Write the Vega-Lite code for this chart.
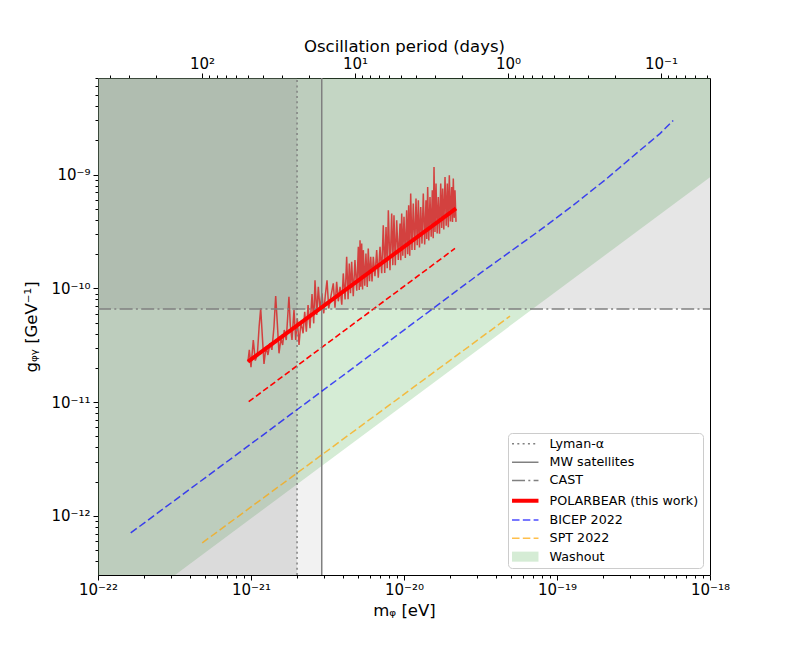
{
  "$schema": "https://vega.github.io/schema/vega-lite/v6.json",
  "width": 612,
  "height": 497,
  "autosize": "none",
  "padding": {"left": 98, "top": 78, "right": 79, "bottom": 83},
  "background": "white",
  "config": {
    "font": "DejaVu Sans",
    "view": {"stroke": "black", "strokeWidth": 1},
    "axis": {
      "domain": false, "grid": false,
      "labelColor": "black", "titleColor": "black", "tickColor": "black", "tickWidth": 1,
      "labelFont": "DejaVu Sans", "titleFont": "DejaVu Sans", "titleFontWeight": "normal",
      "labelFontSize": 15, "titleFontSize": 16.5,
      "labelFlush": false, "labelOverlap": false, "labelBound": false
    },
    "legend": {
      "orient": "bottom-right", "offset": 7, "padding": 4.5, "rowPadding": 4.3,
      "fillColor": "rgba(255,255,255,0.8)", "strokeColor": "#cccccc", "cornerRadius": 4,
      "labelFont": "DejaVu Sans", "labelFontSize": 12.7, "labelColor": "black", "labelLimit": 300,
      "symbolType": "M-10,0H10", "symbolSize": 7, "symbolOffset": 6.4, "labelOffset": 18
    }
  },
  "datasets": {
    "washout": [
      {"m": 1e-22, "g": 9.5e-14, "gtop": 7.06e-9},
      {"m": 1e-18, "g": 9.5e-10, "gtop": 7.06e-9}
    ],
    "regions": [
      {"region": "Lyman-α", "m": 1e-22, "m2": 2.0e-21, "g": 3.03e-13, "g2": 7.06e-9},
      {"region": "MW satellites", "m": 1e-22, "m2": 2.9e-21, "g": 3.03e-13, "g2": 7.06e-9},
      {"region": "CAST", "m": 1e-22, "m2": 1e-18, "g": 6.6e-11, "g2": 7.06e-9}
    ],
    "noisy": [
      {"m": 9.55e-22, "g": 2.27e-11}, {"m": 9.75e-22, "g": 2.88e-11}, {"m": 1.0e-21, "g": 2.03e-11},
      {"m": 1.035e-21, "g": 3.52e-11}, {"m": 1.067e-21, "g": 2.32e-11}, {"m": 1.10e-21, "g": 2.60e-11},
      {"m": 1.13e-21, "g": 4.60e-11}, {"m": 1.157e-21, "g": 6.68e-11}, {"m": 1.19e-21, "g": 3.52e-11},
      {"m": 1.216e-21, "g": 2.17e-11}, {"m": 1.253e-21, "g": 3.08e-11}, {"m": 1.29e-21, "g": 2.60e-11},
      {"m": 1.33e-21, "g": 3.30e-11}, {"m": 1.37e-21, "g": 2.88e-11}, {"m": 1.413e-21, "g": 4.60e-11},
      {"m": 1.45e-21, "g": 8.56e-11}, {"m": 1.486e-21, "g": 4.93e-11}, {"m": 1.524e-21, "g": 2.69e-11},
      {"m": 1.57e-21, "g": 3.64e-11}, {"m": 1.61e-21, "g": 3.18e-11}, {"m": 1.65e-21, "g": 4.31e-11},
      {"m": 1.70e-21, "g": 3.52e-11}, {"m": 1.77e-21, "g": 8.44e-11}, {"m": 1.807e-21, "g": 4.76e-11},
      {"m": 1.853e-21, "g": 3.52e-11}, {"m": 1.91e-21, "g": 6.45e-11}, {"m": 1.96e-21, "g": 3.52e-11},
      {"m": 2.007e-21, "g": 5.46e-11}, {"m": 2.06e-21, "g": 3.18e-11}, {"m": 2.12e-21, "g": 5.09e-11},
      {"m": 2.19e-21, "g": 4.03e-11}, {"m": 2.244e-21, "g": 6.24e-11}, {"m": 2.30e-21, "g": 4.16e-11},
      {"m": 2.36e-21, "g": 7.14e-11}, {"m": 2.43e-21, "g": 4.46e-11}, {"m": 2.505e-21, "g": 8.91e-11},
      {"m": 2.57e-21, "g": 4.93e-11}, {"m": 2.62e-21, "g": 1.18e-10}, {"m": 2.69e-21, "g": 5.83e-11},
      {"m": 2.754e-21, "g": 1.033e-10}, {"m": 2.825e-21, "g": 6.45e-11}, {"m": 2.91e-21, "g": 9.04e-11},
      {"m": 2.99e-21, "g": 6.04e-11}, {"m": 3.06e-21, "g": 8.73e-11}, {"m": 3.14e-21, "g": 1.18e-10},
      {"m": 3.22e-21, "g": 6.68e-11},
      {"m": 3.45e-21, "g": 1.106e-10}, {"m": 3.54e-21, "g": 6.76e-11}, {"m": 3.63e-21, "g": 1.143e-10},
      {"m": 3.72e-21, "g": 7.70e-11}, {"m": 3.82e-21, "g": 1.033e-10}, {"m": 3.92e-21, "g": 7.18e-11},
      {"m": 4.01e-21, "g": 1.354e-10}, {"m": 4.12e-21, "g": 8.01e-11}, {"m": 4.22e-21, "g": 1.893e-10},
      {"m": 4.31e-21, "g": 8.04e-11}, {"m": 4.39e-21, "g": 1.657e-10}, {"m": 4.47e-21, "g": 9.05e-11},
      {"m": 4.55e-21, "g": 1.712e-10}, {"m": 4.66e-21, "g": 8.53e-11}, {"m": 4.78e-21, "g": 1.771e-10},
      {"m": 4.91e-21, "g": 9.54e-11}, {"m": 5.03e-21, "g": 2.317e-10}, {"m": 5.10e-21, "g": 9.70e-11},
      {"m": 5.16e-21, "g": 2.653e-10}, {"m": 5.22e-21, "g": 1.034e-10}, {"m": 5.29e-21, "g": 2.48e-10},
      {"m": 5.36e-21, "g": 9.79e-11}, {"m": 5.42e-21, "g": 2.168e-10}, {"m": 5.54e-21, "g": 1.053e-10},
      {"m": 5.64e-21, "g": 2.028e-10}, {"m": 5.75e-21, "g": 1.029e-10}, {"m": 5.84e-21, "g": 2.243e-10},
      {"m": 5.95e-21, "g": 1.154e-10}, {"m": 6.06e-21, "g": 1.893e-10}, {"m": 6.18e-21, "g": 1.150e-10},
      {"m": 6.30e-21, "g": 1.893e-10}, {"m": 6.46e-21, "g": 1.279e-10}, {"m": 6.63e-21, "g": 2.168e-10},
      {"m": 6.79e-21, "g": 1.239e-10}, {"m": 6.97e-21, "g": 2.317e-10}, {"m": 7.15e-21, "g": 1.357e-10},
      {"m": 7.32e-21, "g": 3.592e-10}, {"m": 7.48e-21, "g": 1.363e-10}, {"m": 7.63e-21, "g": 3.47e-10},
      {"m": 7.77e-21, "g": 1.503e-10}, {"m": 7.90e-21, "g": 4.86e-10}, {"m": 8.10e-21, "g": 1.445e-10},
      {"m": 8.31e-21, "g": 4.55e-10}, {"m": 8.45e-21, "g": 1.601e-10}, {"m": 8.60e-21, "g": 4.40e-10},
      {"m": 8.77e-21, "g": 1.596e-10}, {"m": 8.96e-21, "g": 3.97e-10}, {"m": 9.18e-21, "g": 1.774e-10},
      {"m": 9.42e-21, "g": 3.72e-10}, {"m": 9.53e-21, "g": 1.768e-10}, {"m": 9.66e-21, "g": 4.55e-10},
      {"m": 9.82e-21, "g": 1.936e-10}, {"m": 1.0e-20, "g": 4.25e-10}, {"m": 1.020e-20, "g": 1.853e-10},
      {"m": 1.041e-20, "g": 4.86e-10}, {"m": 1.057e-20, "g": 2.0e-10}, {"m": 1.073e-20, "g": 5.38e-10},
      {"m": 1.090e-20, "g": 1.940e-10}, {"m": 1.106e-20, "g": 6.81e-10}, {"m": 1.128e-20, "g": 2.177e-10},
      {"m": 1.150e-20, "g": 5.57e-10}, {"m": 1.175e-20, "g": 2.176e-10}, {"m": 1.198e-20, "g": 6.16e-10},
      {"m": 1.220e-20, "g": 2.40e-10}, {"m": 1.241e-20, "g": 5.95e-10}, {"m": 1.262e-20, "g": 2.29e-10},
      {"m": 1.286e-20, "g": 5.20e-10}, {"m": 1.311e-20, "g": 2.475e-10}, {"m": 1.337e-20, "g": 6.81e-10},
      {"m": 1.365e-20, "g": 2.426e-10}, {"m": 1.392e-20, "g": 5.95e-10}, {"m": 1.409e-20, "g": 2.713e-10},
      {"m": 1.428e-20, "g": 7.78e-10}, {"m": 1.452e-20, "g": 2.631e-10}, {"m": 1.479e-20, "g": 6.36e-10},
      {"m": 1.506e-20, "g": 2.84e-10}, {"m": 1.531e-20, "g": 7.28e-10}, {"m": 1.552e-20, "g": 2.754e-10},
      {"m": 1.571e-20, "g": 1.166e-9}, {"m": 1.594e-20, "g": 3.128e-10}, {"m": 1.619e-20, "g": 8.34e-10},
      {"m": 1.648e-20, "g": 3.043e-10}, {"m": 1.676e-20, "g": 6.36e-10}, {"m": 1.706e-20, "g": 3.025e-10},
      {"m": 1.738e-20, "g": 8.34e-10}, {"m": 1.764e-20, "g": 3.39e-10}, {"m": 1.790e-20, "g": 7.54e-10},
      {"m": 1.820e-20, "g": 3.292e-10}, {"m": 1.854e-20, "g": 9.53e-10}, {"m": 1.887e-20, "g": 3.552e-10},
      {"m": 1.919e-20, "g": 8.34e-10}, {"m": 1.948e-20, "g": 3.45e-10}, {"m": 1.978e-20, "g": 9.86e-10},
      {"m": 2.013e-20, "g": 3.864e-10}, {"m": 2.05e-20, "g": 7.78e-10}, {"m": 2.075e-20, "g": 3.824e-10},
      {"m": 2.10e-20, "g": 9.22e-10}, {"m": 2.129e-20, "g": 4.167e-10}, {"m": 2.154e-20, "g": 7.28e-10},
      {"m": 2.188e-20, "g": 3.84e-10}
    ],
    "forecast": [
      {"m": 9.66e-22, "g": 1.01e-11},
      {"m": 2.154e-20, "g": 2.244e-10}
    ],
    "lines": [
      {"series": "Lyman-α", "m": 2.0e-21, "g": 3.03e-13},
      {"series": "Lyman-α", "m": 2.0e-21, "g": 7.06e-9},
      {"series": "MW satellites", "m": 2.9e-21, "g": 3.03e-13},
      {"series": "MW satellites", "m": 2.9e-21, "g": 7.06e-9},
      {"series": "CAST", "m": 1e-22, "g": 6.6e-11},
      {"series": "CAST", "m": 1e-18, "g": 6.6e-11},
      {"series": "POLARBEAR (this work)", "m": 9.55e-22, "g": 2.27e-11},
      {"series": "POLARBEAR (this work)", "m": 2.188e-20, "g": 5.04e-10},
      {"series": "BICEP 2022", "m": 1.636e-22, "g": 7.1e-13},
      {"series": "BICEP 2022", "m": 1e-21, "g": 4.3e-12},
      {"series": "BICEP 2022", "m": 1e-20, "g": 4.3e-11},
      {"series": "BICEP 2022", "m": 3.14e-20, "g": 1.355e-10},
      {"series": "BICEP 2022", "m": 7.74e-20, "g": 3.245e-10},
      {"series": "BICEP 2022", "m": 1.278e-19, "g": 5.38e-10},
      {"series": "BICEP 2022", "m": 2.113e-19, "g": 9.22e-10},
      {"series": "BICEP 2022", "m": 3.487e-19, "g": 1.634e-9},
      {"series": "BICEP 2022", "m": 4.71e-19, "g": 2.29e-9},
      {"series": "BICEP 2022", "m": 5.75e-19, "g": 2.99e-9},
      {"series": "SPT 2022", "m": 4.8e-22, "g": 5.8e-13},
      {"series": "SPT 2022", "m": 4.93e-20, "g": 5.7e-11}
    ],
    "period": [{"p": 478.66}, {"p": 0.047866}]
  },
  "resolve": {"scale": {"x": "independent"}},
  "layer": [
    {
      "resolve": {"axis": {"x": "independent", "y": "independent"}},
      "layer": [
        {
          "data": {"name": "washout"},
          "mark": {"type": "area", "color": "#2ca02c", "opacity": 0.2, "clip": true},
          "encoding": {
            "x": {
              "field": "m", "type": "quantitative",
              "scale": {"type": "log", "domain": [1e-22, 1e-18], "nice": false},
              "axis": {
                "orient": "bottom", "values": [1e-22, 1e-21, 1e-20, 1e-19, 1e-18],
                "labelExpr": "'10' + replace(replace(replace(replace(replace(replace(replace(replace(replace(replace(replace(toString(round(log(datum.value) / LN10)), regexp('-', 'g'), '⁻'), regexp('0', 'g'), '⁰'), regexp('1', 'g'), '¹'), regexp('2', 'g'), '²'), regexp('3', 'g'), '³'), regexp('4', 'g'), '⁴'), regexp('5', 'g'), '⁵'), regexp('6', 'g'), '⁶'), regexp('7', 'g'), '⁷'), regexp('8', 'g'), '⁸'), regexp('9', 'g'), '⁹')",
                "title": "mᵩ [eV]", "tickSize": 5, "labelPadding": 2, "titlePadding": 5
              }
            },
            "y": {
              "field": "g", "type": "quantitative",
              "scale": {"type": "log", "domain": [3.03e-13, 7.06e-9], "nice": false},
              "axis": {
                "orient": "left", "values": [1e-12, 1e-11, 1e-10, 1e-9],
                "labelExpr": "'10' + replace(replace(replace(replace(replace(replace(replace(replace(replace(replace(replace(toString(round(log(datum.value) / LN10)), regexp('-', 'g'), '⁻'), regexp('0', 'g'), '⁰'), regexp('1', 'g'), '¹'), regexp('2', 'g'), '²'), regexp('3', 'g'), '³'), regexp('4', 'g'), '⁴'), regexp('5', 'g'), '⁵'), regexp('6', 'g'), '⁶'), regexp('7', 'g'), '⁷'), regexp('8', 'g'), '⁸'), regexp('9', 'g'), '⁹')",
                "title": "gᵩᵧ [GeV⁻¹]", "tickSize": 5, "labelPadding": 3, "titlePadding": 11
              }
            },
            "y2": {"field": "gtop"}
          }
        },
        {
          "data": {"name": "regions"},
          "transform": [{"filter": "datum.region != 'MW satellites'"}],
          "mark": {"type": "rect", "color": "#808080", "opacity": 0.2},
          "encoding": {
            "x": {
              "field": "m", "type": "quantitative",
              "scale": {"type": "log", "domain": [1e-22, 1e-18], "nice": false},
              "axis": {
                "orient": "bottom",
                "values": [2e-22, 3e-22, 4e-22, 5e-22, 6e-22, 7e-22, 8e-22, 9e-22, 2e-21, 3e-21, 4e-21, 5e-21, 6e-21, 7e-21, 8e-21, 9e-21, 2e-20, 3e-20, 4e-20, 5e-20, 6e-20, 7e-20, 8e-20, 9e-20, 2e-19, 3e-19, 4e-19, 5e-19, 6e-19, 7e-19, 8e-19, 9e-19],
                "labels": false, "tickSize": 3, "title": null
              }
            },
            "x2": {"field": "m2"},
            "y": {
              "field": "g", "type": "quantitative",
              "scale": {"type": "log", "domain": [3.03e-13, 7.06e-9], "nice": false},
              "axis": {
                "orient": "left",
                "values": [4e-13, 5e-13, 6e-13, 7e-13, 8e-13, 9e-13, 2e-12, 3e-12, 4e-12, 5e-12, 6e-12, 7e-12, 8e-12, 9e-12, 2e-11, 3e-11, 4e-11, 5e-11, 6e-11, 7e-11, 8e-11, 9e-11, 2e-10, 3e-10, 4e-10, 5e-10, 6e-10, 7e-10, 8e-10, 9e-10, 2e-9, 3e-9, 4e-9, 5e-9, 6e-9, 7e-9],
                "labels": false, "tickSize": 3, "title": null
              }
            },
            "y2": {"field": "g2"}
          }
        },
        {
          "data": {"name": "regions"},
          "transform": [{"filter": "datum.region == 'MW satellites'"}],
          "mark": {"type": "rect", "color": "#808080", "opacity": 0.1},
          "encoding": {
            "x": {"field": "m", "type": "quantitative", "scale": {"type": "log", "domain": [1e-22, 1e-18], "nice": false}, "axis": null},
            "x2": {"field": "m2"},
            "y": {"field": "g", "type": "quantitative", "scale": {"type": "log", "domain": [3.03e-13, 7.06e-9], "nice": false}, "axis": null},
            "y2": {"field": "g2"}
          }
        },
        {
          "data": {"name": "noisy"},
          "mark": {"type": "line", "color": "#d62728", "strokeWidth": 1.5, "opacity": 0.85},
          "encoding": {
            "x": {"field": "m", "type": "quantitative", "scale": {"type": "log", "domain": [1e-22, 1e-18], "nice": false}, "axis": null},
            "y": {"field": "g", "type": "quantitative", "scale": {"type": "log", "domain": [3.03e-13, 7.06e-9], "nice": false}, "axis": null}
          }
        },
        {
          "data": {"name": "forecast"},
          "mark": {"type": "line", "color": "#ff0000", "strokeWidth": 1.6, "strokeDash": [6, 3]},
          "encoding": {
            "x": {"field": "m", "type": "quantitative", "scale": {"type": "log", "domain": [1e-22, 1e-18], "nice": false}, "axis": null},
            "y": {"field": "g", "type": "quantitative", "scale": {"type": "log", "domain": [3.03e-13, 7.06e-9], "nice": false}, "axis": null}
          }
        },
        {
          "data": {"name": "lines"},
          "mark": {"type": "line"},
          "encoding": {
            "x": {"field": "m", "type": "quantitative", "scale": {"type": "log", "domain": [1e-22, 1e-18], "nice": false}, "axis": null},
            "y": {"field": "g", "type": "quantitative", "scale": {"type": "log", "domain": [3.03e-13, 7.06e-9], "nice": false}, "axis": null},
            "color": {
              "field": "series", "type": "nominal",
              "scale": {
                "domain": ["Lyman-α", "MW satellites", "CAST", "POLARBEAR (this work)", "BICEP 2022", "SPT 2022", "Washout"],
                "range": ["#808080", "#808080", "#808080", "#ff0000", "#0000ff", "#ffa500", "#2ca02c"]
              },
              "legend": {
                "title": null,
                "encode": {
                  "symbols": {
                    "update": {
                      "shape": {"signal": "datum.value === 'Washout' ? 'M-10,-3.8H10V3.8H-10Z' : 'M-10,0H10'"},
                      "fill": {"signal": "datum.value === 'Washout' ? '#2ca02c' : 'transparent'"}
                    }
                  }
                }
              }
            },
            "strokeDash": {
              "field": "series", "type": "nominal",
              "scale": {
                "domain": ["Lyman-α", "MW satellites", "CAST", "POLARBEAR (this work)", "BICEP 2022", "SPT 2022", "Washout"],
                "range": [[2, 3.3], [1, 0], [13, 3.3, 2, 3.3], [1, 0], [7.5, 3.3], [7.5, 3.3], [1, 0]]
              },
              "legend": {"title": null}
            },
            "strokeWidth": {
              "field": "series", "type": "nominal",
              "scale": {
                "type": "ordinal",
                "domain": ["Lyman-α", "MW satellites", "CAST", "POLARBEAR (this work)", "BICEP 2022", "SPT 2022", "Washout"],
                "range": [1.5, 1.5, 1.5, 4, 1.5, 1.5, 0]
              },
              "legend": {"title": null}
            },
            "opacity": {
              "field": "series", "type": "nominal",
              "scale": {
                "type": "ordinal",
                "domain": ["Lyman-α", "MW satellites", "CAST", "POLARBEAR (this work)", "BICEP 2022", "SPT 2022", "Washout"],
                "range": [1, 1, 1, 1, 0.7, 0.7, 0.2]
              },
              "legend": {"title": null}
            }
          }
        }
      ]
    },
    {
      "data": {"name": "period"},
      "mark": {"type": "point", "opacity": 0},
      "encoding": {
        "x": {
          "field": "p", "type": "quantitative",
          "scale": {"type": "log", "domain": [0.047866, 478.66], "reverse": true, "nice": false},
          "axis": {
            "orient": "top", "values": [100, 10, 1, 0.1],
            "labelExpr": "'10' + replace(replace(replace(replace(replace(replace(replace(replace(replace(replace(replace(toString(round(log(datum.value) / LN10)), regexp('-', 'g'), '⁻'), regexp('0', 'g'), '⁰'), regexp('1', 'g'), '¹'), regexp('2', 'g'), '²'), regexp('3', 'g'), '³'), regexp('4', 'g'), '⁴'), regexp('5', 'g'), '⁵'), regexp('6', 'g'), '⁶'), regexp('7', 'g'), '⁷'), regexp('8', 'g'), '⁸'), regexp('9', 'g'), '⁹')",
            "title": "Oscillation period (days)", "tickSize": 5, "labelPadding": 2, "titlePadding": 2
          }
        }
      }
    },
    {
      "data": {"name": "period"},
      "mark": {"type": "point", "opacity": 0},
      "encoding": {
        "x": {
          "field": "p", "type": "quantitative",
          "scale": {"type": "log", "domain": [0.047866, 478.66], "reverse": true, "nice": false},
          "axis": {
            "orient": "top",
            "values": [400, 300, 200, 90, 80, 70, 60, 50, 40, 30, 20, 9, 8, 7, 6, 5, 4, 3, 2, 0.9, 0.8, 0.7, 0.6, 0.5, 0.4, 0.3, 0.2, 0.09, 0.08, 0.07, 0.06, 0.05],
            "labels": false, "tickSize": 3, "title": null
          }
        }
      }
    }
  ]
}
